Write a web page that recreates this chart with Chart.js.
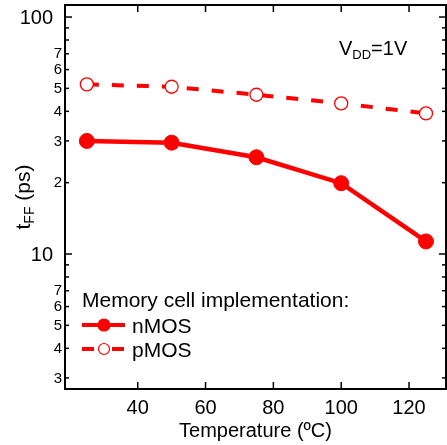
<!DOCTYPE html>
<html>
<head>
<meta charset="utf-8">
<script src="https://cdn.jsdelivr.net/npm/chart.js@4.4.0/dist/chart.umd.min.js"></script>
<style>
  html, body { margin: 0; padding: 0; background: #fff; }
  #wrap { width: 447px; height: 445px; }
</style>
</head>
<body>
<div id="wrap"><canvas id="chart" width="447" height="445"></canvas></div>
<script>
// ----- data -----
const temperatures = [25, 50, 75, 100, 125];          // ºC
const nmosDelay = [30.0, 29.5, 25.6, 19.9, 11.3];      // ps
const pmosDelay = [52.0, 50.8, 47.0, 43.2, 39.2];      // ps
const seriesNames = ["nMOS", "pMOS"];
const xTicks = [40, 60, 80, 100, 120];
const yMajorTicks = [10, 100];
const yMinorTicks = [3, 4, 5, 6, 7, 8, 9, 20, 30, 40, 50, 60, 70, 80, 90];

const RED = "#ff0000";
const FONT = '"Liberation Sans", Arial, sans-serif';

function line(ctx, x1, y1, x2, y2) {
  ctx.beginPath();
  ctx.moveTo(x1, y1);
  ctx.lineTo(x2, y2);
  ctx.stroke();
}

// frame, inward ticks on all four sides, tick labels
const framePlugin = {
  id: "frame",
  beforeDatasetsDraw(chart) {
    const { ctx, chartArea: a, scales: { x, y } } = chart;
    ctx.save();
    ctx.strokeStyle = "#000";
    ctx.lineWidth = 2;
    ctx.strokeRect(a.left, a.top, a.right - a.left, a.bottom - a.top);

    ctx.lineWidth = 1.5;
    ctx.fillStyle = "#000";

    // x ticks + labels
    ctx.font = "20px " + FONT;
    ctx.textAlign = "center";
    ctx.textBaseline = "alphabetic";
    xTicks.forEach(v => {
      const px = x.getPixelForValue(v);
      line(ctx, px, a.bottom, px, a.bottom - 7);
      line(ctx, px, a.top, px, a.top + 7);
      ctx.fillText(String(v), px, 414);
    });

    // y major
    ctx.textAlign = "right";
    ctx.textBaseline = "middle";
    yMajorTicks.forEach(v => {
      const py = y.getPixelForValue(v);
      line(ctx, a.left, py, a.left + 7, py);
      line(ctx, a.right, py, a.right - 7, py);
      ctx.font = "20px " + FONT;
      ctx.fillText(String(v), 53, py + 1);
    });

    // y minor (leading digit shown for 2..7)
    yMinorTicks.forEach(v => {
      const py = y.getPixelForValue(v);
      line(ctx, a.left, py, a.left + 4, py);
      line(ctx, a.right, py, a.right - 4, py);
      const d = Math.round(v / Math.pow(10, Math.floor(Math.log10(v))));
      if (d <= 7) {
        ctx.font = "15px " + FONT;
        ctx.fillText(String(d), 62, py + 0.5);
      }
    });
    ctx.restore();
  },
  afterDraw(chart) {
    const { ctx, chartArea: a } = chart;
    ctx.save();
    ctx.fillStyle = "#000";
    ctx.textBaseline = "alphabetic";

    // x title
    ctx.font = "20px " + FONT;
    ctx.textAlign = "center";
    ctx.fillText("Temperature (ºC)", (a.left + a.right) / 2, 437);
    ctx.textAlign = "left";

    // y title, rotated: t_FF (ps)
    ctx.save();
    ctx.translate(30, 197);
    ctx.rotate(-Math.PI / 2);
    const big = "21px " + FONT, small = "14px " + FONT;
    ctx.font = big; const w1 = ctx.measureText("t").width;
    ctx.font = small; const w2 = ctx.measureText("FF").width;
    ctx.font = big; const w3 = ctx.measureText(" (ps)").width;
    let sx = -(w1 + w2 + w3) / 2;
    ctx.font = big; ctx.fillText("t", sx, 0); sx += w1;
    ctx.font = small; ctx.fillText("FF", sx, 4); sx += w2;
    ctx.font = big; ctx.fillText(" (ps)", sx, 0);
    ctx.restore();

    // V_DD=1V
    let vx = 339;
    ctx.font = "20px " + FONT; ctx.fillText("V", vx, 55); vx += ctx.measureText("V").width;
    ctx.font = "13px " + FONT; ctx.fillText("DD", vx, 59); vx += ctx.measureText("DD").width;
    ctx.font = "20px " + FONT; ctx.fillText("=1V", vx, 55);

    // legend
    ctx.font = "21px " + FONT;
    ctx.fillText("Memory cell implementation:", 82, 307);
    const ds = chart.data.datasets;
    const rows = [325, 349];
    rows.forEach((ry, i) => {
      const d = ds[i];
      ctx.strokeStyle = RED;
      ctx.lineWidth = 4;
      if (i === 0) {
        line(ctx, 82, ry, 125, ry);
      } else {
        line(ctx, 82, ry, 94, ry);
        line(ctx, 112, ry, 124, ry);
      }
      ctx.beginPath();
      ctx.arc(104, ry, i === 0 ? 6 : 5.5, 0, Math.PI * 2);
      ctx.fillStyle = d.pointBackgroundColor;
      ctx.fill();
      ctx.lineWidth = 1.2;
      ctx.stroke();
      ctx.fillStyle = "#000";
      ctx.fillText(d.label, 132, ry + 7.5);
    });
    ctx.restore();
  }
};

new Chart(document.getElementById("chart"), {
  type: "line",
  data: {
    datasets: [
      {
        label: seriesNames[0],
        data: temperatures.map((t, i) => ({ x: t, y: nmosDelay[i] })),
        borderColor: RED,
        borderWidth: 4.5,
        pointRadius: 7.5,
        pointBackgroundColor: RED,
        pointBorderColor: RED,
        pointBorderWidth: 1,
        tension: 0
      },
      {
        label: seriesNames[1],
        data: temperatures.map((t, i) => ({ x: t, y: pmosDelay[i] })),
        borderColor: RED,
        borderWidth: 4,
        borderDash: [12, 13],
        pointRadius: 6.5,
        pointBackgroundColor: "#ffffff",
        pointBorderColor: RED,
        pointBorderWidth: 1.3,
        tension: 0
      }
    ]
  },
  options: {
    responsive: false,
    animation: false,
    devicePixelRatio: 1,
    layout: { autoPadding: false, padding: { left: 65, right: 1, top: 5, bottom: 56 } },
    plugins: { legend: { display: false }, tooltip: { enabled: false } },
    scales: {
      x: { type: "linear", min: 18.56, max: 130.9, display: false },
      y: { type: "logarithmic", min: 2.694, max: 112.4, display: false }
    }
  },
  plugins: [framePlugin]
});
</script>
</body>
</html>
